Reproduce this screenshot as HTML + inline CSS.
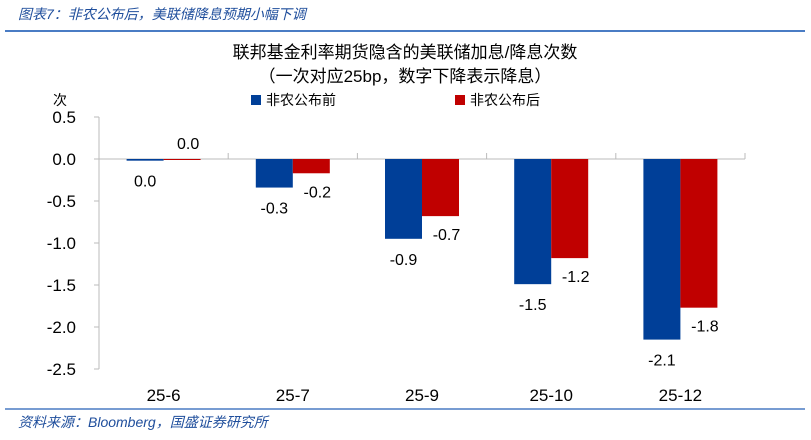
<!DOCTYPE html>
<html><head><meta charset="utf-8"><style>
body{margin:0;background:#fff;width:811px;height:435px;overflow:hidden;font-family:"Liberation Sans","Noto Sans CJK SC",sans-serif}
</style></head><body>
<svg width="811" height="435" xmlns="http://www.w3.org/2000/svg" font-family="Liberation Sans, Noto Sans CJK SC, sans-serif">
<text x="18" y="19" font-size="14" font-style="italic" fill="#1f4e9c">图表7：非农公布后，美联储降息预期小幅下调</text>
<line x1="5" y1="31" x2="805" y2="31" stroke="#4a7cc4" stroke-width="2"/>
<text x="405" y="58" font-size="17" text-anchor="middle" fill="#000">联邦基金利率期货隐含的美联储加息/降息次数</text>
<text x="405" y="82" font-size="17" text-anchor="middle" fill="#000">（一次对应25bp，数字下降表示降息）</text>
<text x="60" y="105" font-size="14" text-anchor="middle">次</text>
<g>
<rect x="251" y="95" width="10" height="10" fill="#003f98"/>
<text x="266" y="105" font-size="14">非农公布前</text>
<rect x="455" y="95" width="10" height="10" fill="#c00000"/>
<text x="470" y="105" font-size="14">非农公布后</text>
</g>
<g id="plot"></g>
<line x1="5" y1="409" x2="805" y2="409" stroke="#4a7cc4" stroke-width="1.5"/>
<text x="18" y="427" font-size="14" font-style="italic" fill="#1f4e9c">资料来源：Bloomberg，国盛证券研究所</text>
</svg>
<script>
const categories=["25-6","25-7","25-9","25-10","25-12"];
const before=[-0.02,-0.34,-0.95,-1.49,-2.15];
const after=[-0.005,-0.17,-0.68,-1.18,-1.77];
const beforeLabels=["0.0","-0.3","-0.9","-1.5","-2.1"];
const afterLabels=["0.0","-0.2","-0.7","-1.2","-1.8"];
const yTicks=[0.5,0,-0.5,-1,-1.5,-2,-2.5];
const yTickLabels=["0.5","0.0","-0.5","-1.0","-1.5","-2.0","-2.5"];
const NS="http://www.w3.org/2000/svg";
const g=document.getElementById('plot');
const x0=99,x1=745,yTop=117,yBot=369,vMax=0.5,vMin=-2.5;
const y=v=>yTop+(vMax-v)/(vMax-vMin)*(yBot-yTop);
const bw=(x1-x0)/categories.length;
const cx=i=>x0+bw*(i+0.5);
function mk(tag,a){const e=document.createElementNS(NS,tag);for(const k in a)e.setAttribute(k,a[k]);g.appendChild(e);return e;}
let e=mk('line',{x1:x0,y1:yTop,x2:x0,y2:yBot,stroke:'#bbb'});


yTicks.forEach((v,i)=>{
 let t=mk('line',{x1:x0-5,y1:y(v),x2:x0,y2:y(v),stroke:'#bbb'});
 
 
 let l=mk('text',{x:76,y:y(v)+6,'font-size':17,'text-anchor':'end'});
 l.textContent=yTickLabels[i];
 
 
});
e=mk('line',{x1:x0,y1:y(0),x2:x1,y2:y(0),stroke:'#bbb'});


categories.forEach((c,i)=>{
 let t=mk('line',{x1:x0+bw*(i+1),y1:y(0)-6,x2:x0+bw*(i+1),y2:y(0),stroke:'#bbb'});
 
 
 let l=mk('text',{x:cx(i),y:401,'font-size':17,'text-anchor':'middle'});
 l.textContent=c;
 
 
 const w=37;
 const vb=before[i],va=after[i];
 let b=mk('rect',{x:cx(i)-w,y:Math.min(y(0),y(vb)),width:w,height:Math.max(Math.abs(y(vb)-y(0)),1.5),fill:'#003f98'});
 
 
 let r=mk('rect',{x:cx(i),y:Math.min(y(0),y(va)),width:w,height:Math.max(Math.abs(y(va)-y(0)),1),fill:'#c00000'});
 
 
 let lb=mk('text',{x:cx(i)-w/2,y:y(vb)+26,'font-size':16,'text-anchor':'middle'});
 lb.textContent=beforeLabels[i];
 
 
 const ly=Math.abs(va)<0.01?y(0)-10:y(va)+24;
 let la=mk('text',{x:cx(i)+w/2+6,y:ly,'font-size':16,'text-anchor':'middle'});
 la.textContent=afterLabels[i];
 
 
});
</script>
</body></html>
